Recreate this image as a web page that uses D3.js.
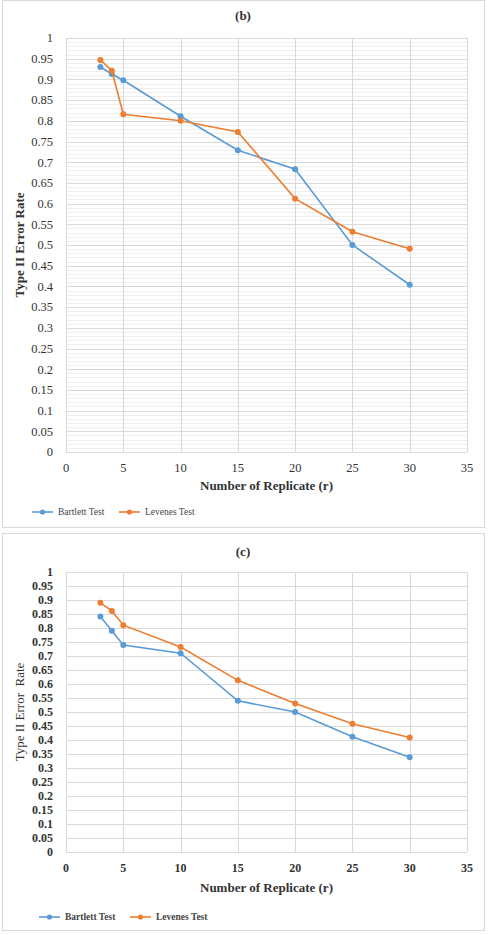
<!DOCTYPE html>
<html>
<head>
<meta charset="utf-8">
<script src="https://cdn.jsdelivr.net/npm/d3@7"></script>
<style>
  body { margin: 0; background: #fff; }
  svg text { font-family: "Liberation Serif", "DejaVu Serif", serif; }
</style>
</head>
<body>
<svg id="chart" width="489" height="935"></svg>
<script>
// Data
const replicates = [3, 4, 5, 10, 15, 20, 25, 30];
const bartlettB = [0.930, 0.913, 0.898, 0.811, 0.729, 0.683, 0.500, 0.404];
const leveneB   = [0.947, 0.921, 0.816, 0.800, 0.773, 0.612, 0.532, 0.491];
const bartlettC = [0.841, 0.790, 0.739, 0.710, 0.540, 0.500, 0.412, 0.338];
const leveneC   = [0.890, 0.861, 0.810, 0.732, 0.613, 0.530, 0.458, 0.409];
const xTicks = [0, 5, 10, 15, 20, 25, 30, 35];
const yTicks = d3.range(0, 21).map(i => i * 0.05);
const seriesNames = ['Bartlett Test', 'Levenes Test'];

const colors = ['#5b9bd5', '#ed7d31'];
const svg = d3.select('#chart');

function drawPanel(cfg) {
  // panel frame
  svg.append('rect')
    .attr('x', 2.5).attr('y', cfg.boxTop + 0.5)
    .attr('width', 482).attr('height', cfg.boxHeight)
    .attr('fill', '#fff')
    .attr('stroke', '#d9d9d9');

  const x = d3.scaleLinear().domain([0, 35]).range([66, 467]);
  const y = d3.scaleLinear().domain([0, 1]).range([cfg.plotBottom, cfg.plotTop]);

  const g = svg.append('g');

  // minor horizontal grid (only panel b)
  if (cfg.minor) {
    g.append('g').selectAll('line')
      .data(d3.range(0, 101).map(i => i / 100).filter(v => Math.round(v * 100) % 5 !== 0))
      .join('line')
      .attr('x1', x(0)).attr('x2', x(35))
      .attr('y1', d => Math.round(y(d)) + 0.5).attr('y2', d => Math.round(y(d)) + 0.5)
      .attr('stroke', '#efefef');
  }

  // major horizontal grid
  g.append('g').selectAll('line')
    .data(yTicks)
    .join('line')
    .attr('x1', x(0)).attr('x2', x(35))
    .attr('y1', d => Math.round(y(d)) + 0.5).attr('y2', d => Math.round(y(d)) + 0.5)
    .attr('stroke', '#d9d9d9');

  // vertical grid
  g.append('g').selectAll('line')
    .data(xTicks)
    .join('line')
    .attr('x1', d => Math.round(x(d)) + 0.5).attr('x2', d => Math.round(x(d)) + 0.5)
    .attr('y1', y(0)).attr('y2', y(1))
    .attr('stroke', '#d9d9d9');

  // y tick labels
  g.append('g').selectAll('text')
    .data(yTicks)
    .join('text')
    .attr('x', 53)
    .attr('y', d => y(d))
    .attr('dy', '0.35em')
    .attr('text-anchor', 'end')
    .attr('font-size', cfg.tickSize)
    .attr('font-weight', cfg.tickWeight)
    .attr('fill', '#333')
    .text(d => String(+d.toFixed(2)));

  // x tick labels
  g.append('g').selectAll('text')
    .data(xTicks)
    .join('text')
    .attr('x', d => x(d))
    .attr('y', cfg.plotBottom + cfg.xTickOffset)
    .attr('text-anchor', 'middle')
    .attr('font-size', cfg.tickSize)
    .attr('font-weight', cfg.tickWeight)
    .attr('fill', '#333')
    .text(d => d);

  // title
  svg.append('text')
    .attr('x', 243).attr('y', cfg.titleY)
    .attr('text-anchor', 'middle')
    .attr('font-size', 13)
    .attr('font-weight', 'bold')
    .attr('fill', '#333')
    .text(cfg.title);

  // axis titles
  svg.append('text')
    .attr('x', (x(0) + x(35)) / 2).attr('y', cfg.xTitleY)
    .attr('text-anchor', 'middle')
    .attr('font-size', 13)
    .attr('font-weight', 'bold')
    .attr('fill', '#333')
    .text('Number of Replicate (r)');

  const cy = (cfg.plotTop + cfg.plotBottom) / 2;
  svg.append('text')
    .attr('transform', `translate(24,${cy}) rotate(-90)`)
    .attr('text-anchor', 'middle')
    .attr('font-size', 13)
    .attr('font-weight', cfg.yTitleWeight)
    .attr('fill', '#333')
    .style('white-space', 'pre')
    .text(cfg.yTitle);

  // series
  const line = d3.line()
    .x(d => x(d[0]))
    .y(d => y(d[1]));

  cfg.series.forEach((vals, i) => {
    const pts = replicates.map((r, j) => [r, vals[j]]);
    g.append('path')
      .datum(pts)
      .attr('d', line)
      .attr('fill', 'none')
      .attr('stroke', colors[i])
      .attr('stroke-width', 1.6);
    g.append('g').selectAll('circle')
      .data(pts)
      .join('circle')
      .attr('cx', d => x(d[0]))
      .attr('cy', d => y(d[1]))
      .attr('r', 3)
      .attr('fill', colors[i]);
  });

  // legend
  const leg = svg.append('g');
  seriesNames.forEach((name, i) => {
    const lx = cfg.legendX[i];
    leg.append('line')
      .attr('x1', lx).attr('x2', lx + 21)
      .attr('y1', cfg.legendY).attr('y2', cfg.legendY)
      .attr('stroke', colors[i]).attr('stroke-width', 1.6);
    leg.append('circle')
      .attr('cx', lx + 10.5).attr('cy', cfg.legendY).attr('r', 2.6)
      .attr('fill', colors[i]);
    leg.append('text')
      .attr('x', lx + 26).attr('y', cfg.legendY)
      .attr('dy', '0.35em')
      .attr('font-size', 9.5)
      .attr('font-weight', cfg.legendWeight)
      .attr('fill', '#444')
      .text(name);
  });
}

drawPanel({
  title: '(b)', boxTop: 0, boxHeight: 527,
  plotTop: 38, plotBottom: 452, minor: true,
  tickSize: 12.5, tickWeight: 'normal', xTickOffset: 20,
  titleY: 20, xTitleY: 490,
  yTitle: 'Type II Error Rate', yTitleWeight: 'bold',
  series: [bartlettB, leveneB],
  legendX: [32, 119], legendY: 512, legendWeight: 'normal'
});

drawPanel({
  title: '(c)', boxTop: 533, boxHeight: 397,
  plotTop: 572, plotBottom: 852, minor: false,
  tickSize: 12, tickWeight: 'bold', xTickOffset: 20,
  titleY: 556, xTitleY: 892,
  yTitle: 'Type II Error  Rate', yTitleWeight: 'normal',
  series: [bartlettC, leveneC],
  legendX: [39, 130], legendY: 917, legendWeight: 'bold'
});
</script>
</body>
</html>
